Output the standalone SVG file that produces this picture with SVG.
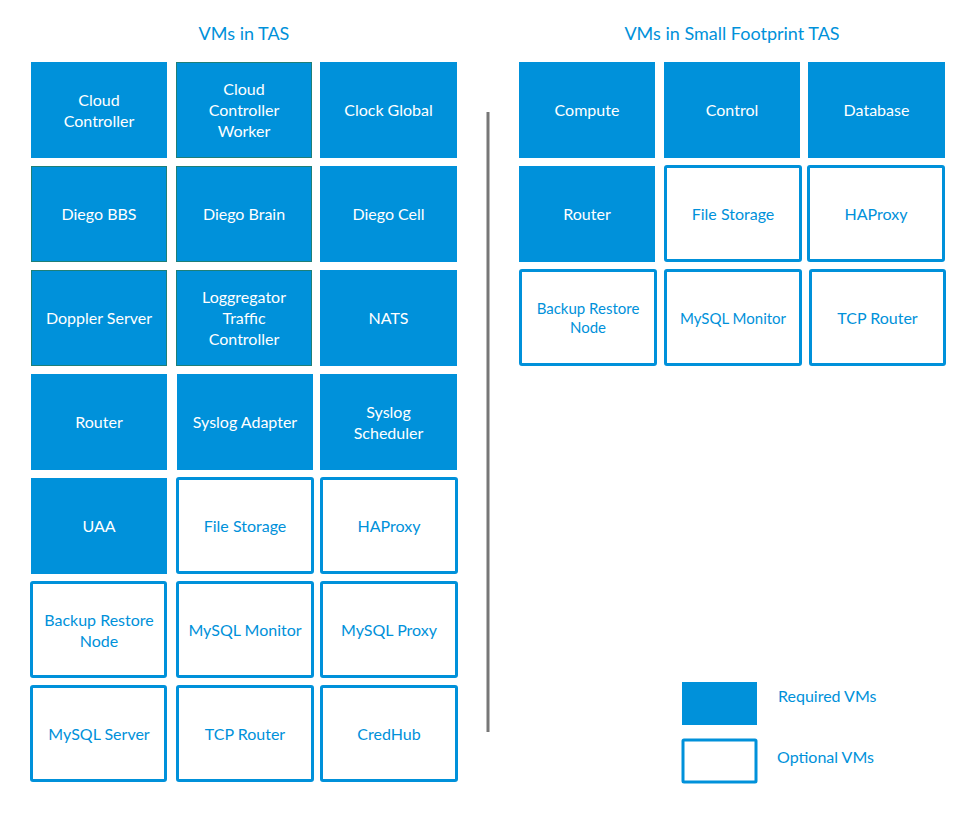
<svg xmlns="http://www.w3.org/2000/svg" width="960" height="814" viewBox="0 0 960 814">
<style>
text{font-family:Lato,"Source Sans Pro","Noto Sans",sans-serif;text-anchor:middle}
.req{fill:#0091DA}
.reqb{fill:#0091DA;stroke:#1E7F78;stroke-width:1}
.opt{fill:#fff;stroke:#0091DA;stroke-width:3}
.tw{fill:#fff;font-size:16px}
.tb{fill:#0091DA;font-size:16px}
.title{fill:#0091DA;font-size:18px}
.leg{fill:#0091DA;font-size:16px;text-anchor:start}
</style>
<rect width="960" height="814" fill="#fff"/>
<text class="title" x="244" y="40">VMs in TAS</text>
<text class="title" x="732" y="40">VMs in Small Footprint TAS</text>

<g id="connectors">
<line x1="488" y1="112" x2="488" y2="732" stroke="#777" stroke-width="3"/>
</g>

<!-- Left grid -->
<g id="cloud-controller"><rect class="req" x="31" y="62" width="136" height="96"/><text class="tw" x="99" y="106">Cloud</text><text class="tw" x="99" y="127">Controller</text></g>
<g id="cloud-controller-worker"><rect class="reqb" x="176.5" y="62.5" width="135" height="95"/><text class="tw" x="244" y="95">Cloud</text><text class="tw" x="244" y="116">Controller</text><text class="tw" x="244" y="137">Worker</text></g>
<g id="clock-global"><rect class="req" x="320" y="62" width="137" height="96"/><text class="tw" x="388.5" y="116">Clock Global</text></g>

<g id="diego-bbs"><rect class="reqb" x="31.5" y="166.5" width="135" height="95"/><text class="tw" x="99" y="220">Diego BBS</text></g>
<g id="diego-brain"><rect class="reqb" x="176.5" y="166.5" width="135" height="95"/><text class="tw" x="244" y="220">Diego Brain</text></g>
<g id="diego-cell"><rect class="req" x="320" y="166" width="137" height="96"/><text class="tw" x="388.5" y="220">Diego Cell</text></g>

<g id="doppler-server"><rect class="reqb" x="31.5" y="270.5" width="135" height="95"/><text class="tw" x="99" y="324">Doppler Server</text></g>
<g id="loggregator"><rect class="reqb" x="176.5" y="270.5" width="135" height="95"/><text class="tw" x="244" y="303">Loggregator</text><text class="tw" x="244" y="324">Traffic</text><text class="tw" x="244" y="345">Controller</text></g>
<g id="nats"><rect class="req" x="320" y="270" width="137" height="96"/><text class="tw" x="388.5" y="324">NATS</text></g>

<g id="router"><rect class="req" x="31" y="374" width="136" height="96"/><text class="tw" x="99" y="428">Router</text></g>
<g id="syslog-adapter"><rect class="req" x="177" y="374" width="136" height="96"/><text class="tw" x="245" y="428">Syslog Adapter</text></g>
<g id="syslog-scheduler"><rect class="req" x="320" y="374" width="137" height="96"/><text class="tw" x="388.5" y="418">Syslog</text><text class="tw" x="388.5" y="439">Scheduler</text></g>

<g id="uaa"><rect class="req" x="31" y="478" width="136" height="96"/><text class="tw" x="99" y="532">UAA</text></g>
<g id="file-storage"><rect class="opt" x="177.5" y="478.5" width="135" height="94" rx="1.5"/><text class="tb" x="245" y="532">File Storage</text></g>
<g id="haproxy"><rect class="opt" x="321.5" y="478.5" width="135" height="94" rx="1.5"/><text class="tb" x="389" y="532">HAProxy</text></g>

<g id="backup-restore-node"><rect class="opt" x="31.5" y="582.5" width="134" height="94" rx="1.5"/><text class="tb" x="99" y="626">Backup Restore</text><text class="tb" x="99" y="647">Node</text></g>
<g id="mysql-monitor"><rect class="opt" x="177.5" y="582.5" width="135" height="94" rx="1.5"/><text class="tb" x="245" y="636">MySQL Monitor</text></g>
<g id="mysql-proxy"><rect class="opt" x="321.5" y="582.5" width="135" height="94" rx="1.5"/><text class="tb" x="389" y="636">MySQL Proxy</text></g>

<g id="mysql-server"><rect class="opt" x="31.5" y="686.5" width="134" height="94" rx="1.5"/><text class="tb" x="99" y="740">MySQL Server</text></g>
<g id="tcp-router"><rect class="opt" x="177.5" y="686.5" width="135" height="94" rx="1.5"/><text class="tb" x="245" y="740">TCP Router</text></g>
<g id="credhub"><rect class="opt" x="321.5" y="686.5" width="135" height="94" rx="1.5"/><text class="tb" x="389" y="740">CredHub</text></g>

<!-- Right grid -->
<g id="sf-compute"><rect class="req" x="519" y="62" width="136" height="96"/><text class="tw" x="587" y="116">Compute</text></g>
<g id="sf-control"><rect class="req" x="664" y="62" width="136" height="96"/><text class="tw" x="732" y="116">Control</text></g>
<g id="sf-database"><rect class="req" x="808" y="62" width="137" height="96"/><text class="tw" x="876.5" y="116">Database</text></g>

<g id="sf-router"><rect class="req" x="519" y="166" width="136" height="96"/><text class="tw" x="587" y="220">Router</text></g>
<g id="sf-file-storage"><rect class="opt" x="665.5" y="166.5" width="135" height="94" rx="1.5"/><text class="tb" x="733" y="220">File Storage</text></g>
<g id="sf-haproxy"><rect class="opt" x="808.5" y="166.5" width="135" height="94" rx="1.5"/><text class="tb" x="876" y="220">HAProxy</text></g>

<g id="sf-backup-restore-node"><rect class="opt" x="520.5" y="270.5" width="135" height="94" rx="1.5"/><text class="tb" x="588" y="314" style="font-size:15px">Backup Restore</text><text class="tb" x="588" y="333" style="font-size:15px">Node</text></g>
<g id="sf-mysql-monitor"><rect class="opt" x="665.5" y="270.5" width="135" height="94" rx="1.5"/><text class="tb" x="733" y="324" style="font-size:15px">MySQL Monitor</text></g>
<g id="sf-tcp-router"><rect class="opt" x="810.5" y="270.5" width="134" height="94" rx="1.5"/><text class="tb" x="877.5" y="324">TCP Router</text></g>

<!-- Legend -->
<g id="legend-required"><rect class="req" x="682" y="682" width="75" height="43"/><text class="leg" x="778" y="702">Required VMs</text></g>
<g id="legend-optional"><rect class="opt" x="683" y="740" width="73" height="42" rx="1"/><text class="leg" x="777" y="763">Optional VMs</text></g>
</svg>
